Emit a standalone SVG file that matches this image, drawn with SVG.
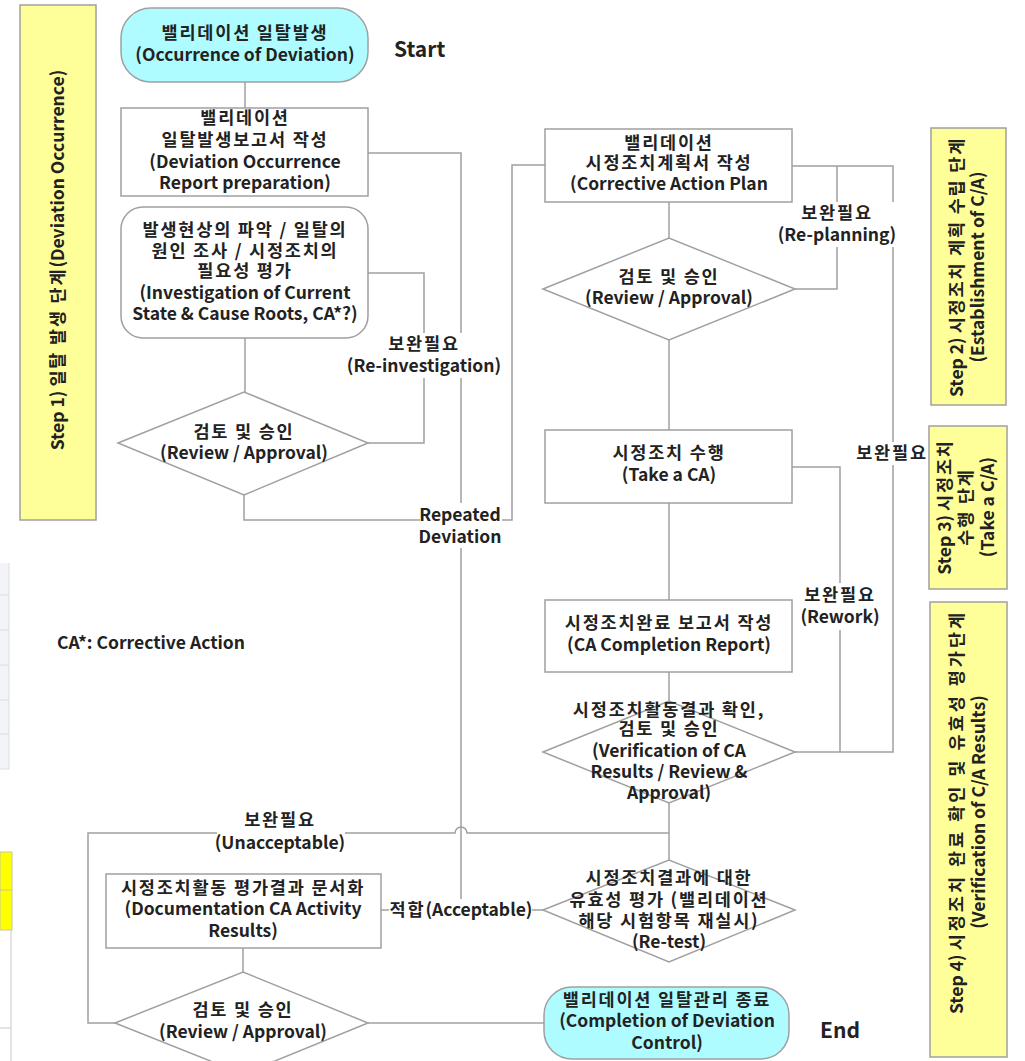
<svg xmlns="http://www.w3.org/2000/svg" width="1025" height="1061" viewBox="0 0 1025 1061">
<style>
text{font-family:"Noto Sans CJK KR","Noto Sans",sans-serif;font-weight:bold;fill:#222;font-size:17.5px}
.c{text-anchor:middle}
.k{letter-spacing:1.8px}
.k4{letter-spacing:3px}
.box{fill:#fff;stroke:#a0a0a0;stroke-width:1.5}
.term{fill:#aefcff;stroke:#a0a0a0;stroke-width:1.5}
.panel{fill:#ffff99;stroke:#a0a0a0;stroke-width:1.5}
.ln{fill:none;stroke:#a0a0a0;stroke-width:1.5}
.lbl{fill:#fff;stroke:none}
.big{font-size:21px}
</style>
<rect width="1025" height="1061" fill="#fff"/>
<g id="edge-artifacts">
<rect x="0" y="563" width="9" height="206" fill="#f3f4f8"/>
<g stroke="#dcdce6" stroke-width="1">
<line x1="0" y1="595" x2="9" y2="595"/><line x1="0" y1="630" x2="9" y2="630"/><line x1="0" y1="665" x2="9" y2="665"/><line x1="0" y1="700" x2="9" y2="700"/><line x1="0" y1="734" x2="9" y2="734"/><line x1="0" y1="769" x2="9" y2="769"/>
<line x1="9" y1="563" x2="9" y2="769"/>
</g>
<rect x="0" y="852" width="12" height="78" fill="#ffff00" stroke="#c8c8a0" stroke-width="1"/>
<line x1="0" y1="890" x2="12" y2="890" stroke="#c8c8a0"/>
<line x1="11" y1="930" x2="11" y2="1061" stroke="#c8c8c8"/>
<line x1="0" y1="1028" x2="11" y2="1028" stroke="#c8c8c8"/>
</g>
<g id="connectors">
<path class="ln" d="M245 82V108"/>
<path class="ln" d="M368 153H461V910"/>
<path class="ln" d="M245 338V392"/>
<path class="ln" d="M368 273H424V443H368"/>
<path class="ln" d="M244 495V520H512V165H545"/>
<path class="ln" d="M669 202V238"/>
<path class="ln" d="M792 166H893V752H795"/>
<path class="ln" d="M837 166V289H795"/>
<path class="ln" d="M669 340V430"/>
<path class="ln" d="M792 467H840V752"/>
<path class="ln" d="M669 503V600"/>
<path class="ln" d="M669 672V701"/>
<path class="ln" d="M669 803V860"/>
<path class="ln" d="M669 833H467A6 6 0 0 0 455 833H88V1023H115"/>
<path class="ln" d="M381 910H543"/>
<path class="ln" d="M243 948V972"/>
<path class="ln" d="M368 1023H544"/>
</g>
<g id="labels">
<rect class="lbl" x="349" y="333" width="150" height="45"/>
<text class="c k" x="424" y="350">보완필요</text>
<text class="c" x="424" y="372">(Re-investigation)</text>
<rect class="lbl" x="420" y="503" width="82" height="45"/>
<text class="c" x="460" y="521">Repeated</text>
<text class="c" x="460" y="543">Deviation</text>
<rect class="lbl" x="780" y="202" width="115" height="45"/>
<text class="c k" x="837" y="219">보완필요</text>
<text class="c" x="837" y="241">(Re-planning)</text>
<rect class="lbl" x="857" y="442" width="71" height="23"/>
<text class="c k" x="892" y="459">보완필요</text>
<rect class="lbl" x="803" y="583" width="77" height="47"/>
<text class="c k" x="840" y="601">보완필요</text>
<text class="c" x="840" y="623">(Rework)</text>
<rect class="lbl" x="217" y="808" width="128" height="47"/>
<text class="c k" x="280" y="826">보완필요</text>
<text class="c" x="280" y="849">(Unacceptable)</text>
<rect class="lbl" x="389" y="899" width="143" height="22"/>
<text class="c" x="461" y="916"><tspan class="k">적합</tspan>(Acceptable)</text>
</g>
<g id="start">
<rect class="term" x="121" y="8" width="247" height="74" rx="30"/>
<text class="c k" x="245" y="39">밸리데이션 일탈발생</text>
<text class="c" x="245" y="61">(Occurrence of Deviation)</text>
</g>
<text x="394" y="57" class="big">Start</text>
<g id="report">
<rect class="box" x="121" y="108" width="247" height="88"/>
<text class="c k" x="245" y="124">밸리데이션</text>
<text class="c k" x="245" y="146">일탈발생보고서 작성</text>
<text class="c" x="245" y="168">(Deviation Occurrence</text>
<text class="c" x="245" y="189">Report preparation)</text>
</g>
<g id="investigation">
<rect class="box" x="121" y="207" width="247" height="131" rx="22"/>
<text class="c k" x="245" y="236">발생현상의 파악 / 일탈의</text>
<text class="c k" x="245" y="257">원인 조사 / 시정조치의</text>
<text class="c k" x="245" y="277">필요성 평가</text>
<text class="c" x="245" y="299">(Investigation of Current</text>
<text class="c" x="245" y="320">State &amp; Cause Roots, CA*?)</text>
</g>
<g id="review1">
<polygon class="box" points="118,443 244,392 368,443 244,495"/>
<text class="c k" x="244" y="438">검토 및 승인</text>
<text class="c" x="244" y="459">(Review / Approval)</text>
</g>
<g id="plan">
<rect class="box" x="545" y="129" width="247" height="73"/>
<text class="c k" x="669" y="149">밸리데이션</text>
<text class="c k" x="669" y="169">시정조치계획서 작성</text>
<text class="c" x="669" y="190">(Corrective Action Plan</text>
</g>
<g id="review2">
<polygon class="box" points="543,289 669,238 795,289 669,340"/>
<text class="c k" x="669" y="283">검토 및 승인</text>
<text class="c" x="669" y="304">(Review / Approval)</text>
</g>
<g id="takeca">
<rect class="box" x="545" y="430" width="247" height="73"/>
<text class="c k" x="669" y="459">시정조치 수행</text>
<text class="c" x="669" y="481">(Take a CA)</text>
</g>
<g id="completion">
<rect class="box" x="545" y="600" width="247" height="72"/>
<text class="c k" x="669" y="629">시정조치완료 보고서 작성</text>
<text class="c" x="669" y="651">(CA Completion Report)</text>
</g>
<g id="verify">
<polygon class="box" points="543,752 669,701 795,752 669,803"/>
<text class="c k" x="669" y="716">시정조치활동결과 확인,</text>
<text class="c k" x="669" y="735">검토 및 승인</text>
<text class="c" x="669" y="757">(Verification of CA</text>
<text class="c" x="669" y="778">Results / Review &amp;</text>
<text class="c" x="669" y="799">Approval)</text>
</g>
<g id="retest">
<polygon class="box" points="543,910 669,860 795,910 669,962"/>
<text class="c k" x="669" y="884">시정조치결과에 대한</text>
<text class="c k" x="669" y="906">유효성 평가 (밸리데이션</text>
<text class="c k" x="669" y="927">해당 시험항목 재실시)</text>
<text class="c" x="669" y="948">(Re-test)</text>
</g>
<g id="documentation">
<rect class="box" x="106" y="874" width="275" height="74"/>
<text class="c k" x="243" y="894">시정조치활동 평가결과 문서화</text>
<text class="c" x="243" y="915">(Documentation CA Activity</text>
<text class="c" x="243" y="937">Results)</text>
</g>
<g id="review3">
<polygon class="box" points="115,1023 243,972 368,1023 243,1074"/>
<text class="c k" x="243" y="1016">검토 및 승인</text>
<text class="c" x="243" y="1038">(Review / Approval)</text>
</g>
<g id="end">
<rect class="term" x="544" y="987" width="245" height="72" rx="28"/>
<text class="c k" x="667" y="1006">밸리데이션 일탈관리 종료</text>
<text class="c" x="667" y="1027">(Completion of Deviation</text>
<text class="c" x="667" y="1049">Control)</text>
</g>
<text x="820" y="1038" class="big">End</text>
<text x="57" y="649">CA*: Corrective Action</text>
<g id="step1">
<rect class="panel" x="20" y="5" width="76" height="515"/>
<text class="c" transform="translate(58,260) rotate(-90)" x="0" y="6">Step 1) <tspan class="k">일탈 발생 단계</tspan>(Deviation Occurrence)</text>
</g>
<g id="step2">
<rect class="panel" x="931" y="128" width="75" height="277"/>
<g transform="translate(968,267) rotate(-90)">
<text class="c" x="0" y="-5">Step 2) <tspan class="k">시정조치 계획 수립 단계</tspan></text>
<text class="c" x="0" y="16">(Establishment of C/A)</text>
</g>
</g>
<g id="step3">
<rect class="panel" x="929" y="426" width="78" height="163"/>
<g transform="translate(966,507) rotate(-90)">
<text class="c" x="0" y="-15">Step 3) <tspan class="k">시정조치</tspan></text>
<text class="c k" x="0" y="6">수행 단계</text>
<text class="c" x="0" y="28">(Take a C/A)</text>
</g>
</g>
<g id="step4">
<rect class="panel" x="930" y="602" width="77" height="455"/>
<g transform="translate(968,812) rotate(-90)">
<text class="c" x="0" y="-5">Step 4) <tspan class="k4">시정조치 완료 확인 및 유효성 평가단계</tspan></text>
<text class="c" x="0" y="17">(Verification of C/A Results)</text>
</g>
</g>
</svg>
